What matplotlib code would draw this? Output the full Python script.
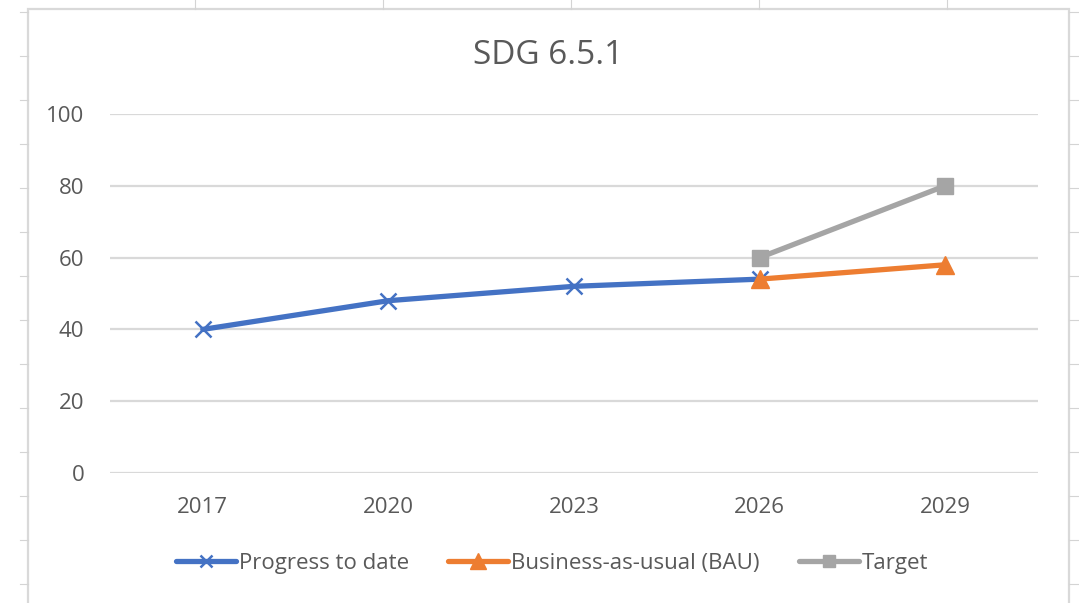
import matplotlib.pyplot as plt
from matplotlib.lines import Line2D
from matplotlib.patches import Rectangle

plt.rcParams['font.family'] = ['Open Sans', 'DejaVu Sans']

years = ['2017', '2020', '2023', '2026', '2029']
progress = [40, 48, 52, 54]
bau = [54, 58]
target = [60, 80]
yticks = [0, 20, 40, 60, 80, 100]

W, H = 1079, 603
txt = '#595959'
grid = '#D9D9D9'

fig = plt.figure(figsize=(W / 100, H / 100), dpi=100)

# spreadsheet cell lines behind the chart
for x in [195, 383, 571, 759, 947]:
    fig.add_artist(Line2D([x / W, x / W], [1, 1 - 9 / H], color='#D4D4D4', lw=0.8))
for y in range(12, 600, 44):
    yy = 1 - y / H
    fig.add_artist(Line2D([20 / W, 28 / W], [yy, yy], color='#D4D4D4', lw=0.8))
    fig.add_artist(Line2D([1069 / W, 1079 / W], [yy, yy], color='#D4D4D4', lw=0.8))

# chart area border
fig.add_artist(Rectangle((28 / W, -0.01), (1069 - 28) / W, 1 - 9 / H + 0.01,
                         fill=False, edgecolor=grid, lw=1.6))

ax = fig.add_axes([110 / W, 1 - 473 / H, (1038 - 110) / W, (473 - 114) / H])
x = list(range(len(years)))

ax.plot(x[:4], progress, color='#4472C4', lw=3.8, marker='x', ms=11, mew=1.8,
        label='Progress to date', zorder=3, solid_capstyle='round')
ax.plot(x[3:], bau, color='#ED7D31', lw=3.8, marker='^', ms=13,
        label='Business-as-usual (BAU)', zorder=4, solid_capstyle='round')
ax.plot(x[3:], target, color='#A5A5A5', lw=3.8, marker='s', ms=11,
        label='Target', zorder=5, solid_capstyle='round')

ax.set_xlim(-0.5, 4.5)
ax.set_ylim(0, 100)
ax.set_xticks(x)
ax.set_xticklabels(years)
ax.set_yticks(yticks)
ax.tick_params(length=0, labelsize=16, colors=txt)
ax.tick_params(axis='x', pad=17)
ax.tick_params(axis='y', pad=18.5)
ax.grid(axis='y', color=grid, lw=1.6)
ax.set_axisbelow(True)
for s in ax.spines.values():
    s.set_visible(False)

fig.text(548 / W, 1 - 55 / H, 'SDG 6.5.1', ha='center', va='center',
         fontsize=24, color=txt)

fig.legend(loc='center', bbox_to_anchor=(552 / W, 1 - 563 / H), ncol=3,
           frameon=False, fontsize=16, labelcolor=txt, handlelength=2.7,
           handletextpad=0.15, columnspacing=1.75, markerscale=0.85)

fig.savefig('out.png', dpi=100)
